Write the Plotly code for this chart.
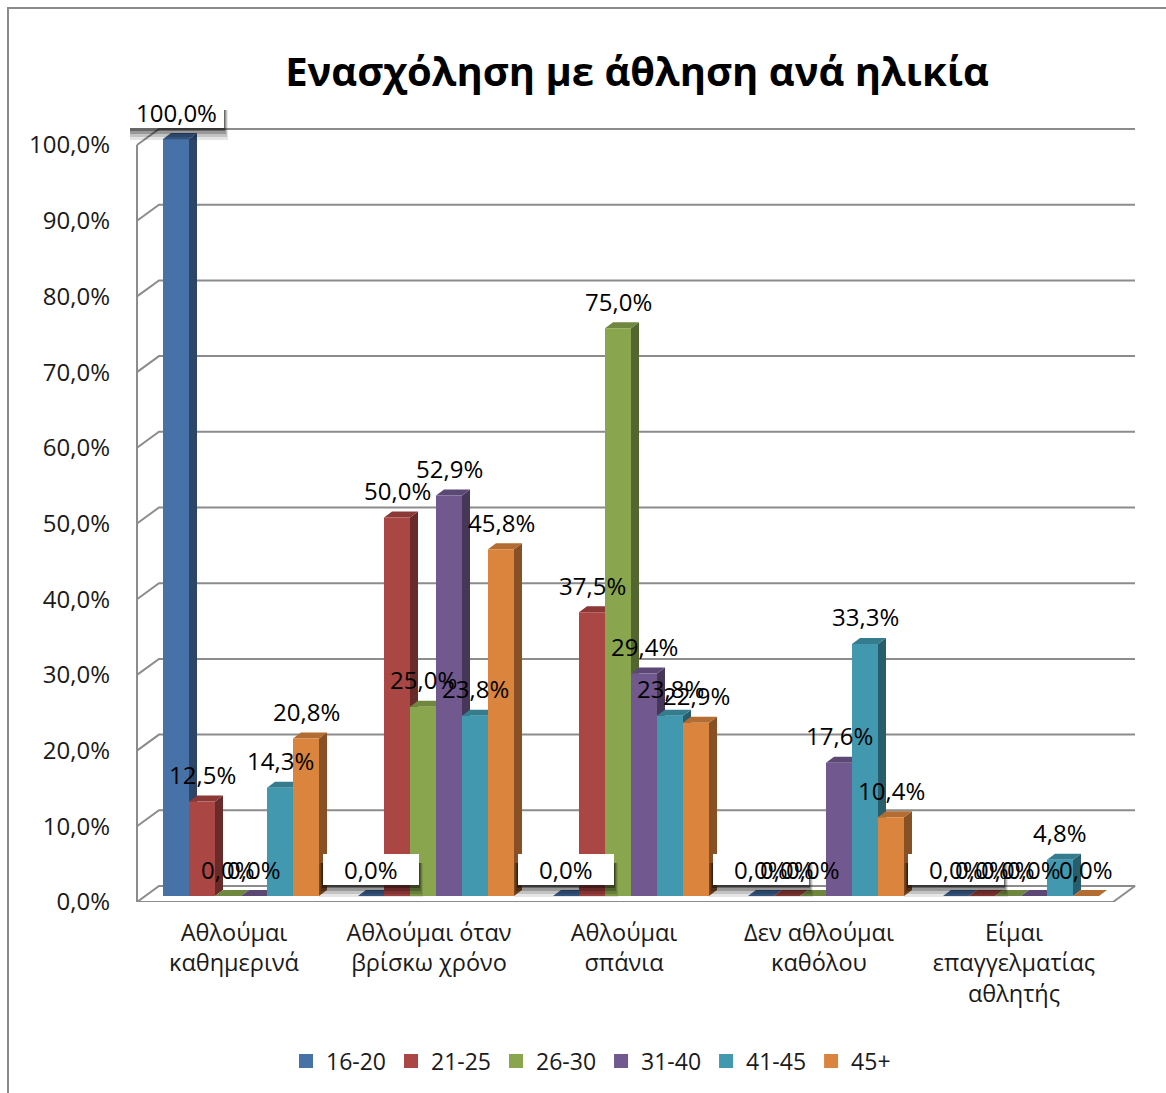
import plotly.graph_objects as go

# ---- data -------------------------------------------------------------
categories = [
    "Αθλούμαι<br>καθημερινά",
    "Αθλούμαι όταν<br>βρίσκω χρόνο",
    "Αθλούμαι<br>σπάνια",
    "Δεν αθλούμαι<br>καθόλου",
    "Είμαι<br>επαγγελματίας<br>αθλητής",
]
age_groups = ["16-20", "21-25", "26-30", "31-40", "41-45", "45+"]

s_16_20 = [100.0, 0.0, 0.0, 0.0, 0.0]
s_21_25 = [12.5, 50.0, 37.5, 0.0, 0.0]
s_26_30 = [0.0, 25.0, 75.0, 0.0, 0.0]
s_31_40 = [0.0, 52.9, 29.4, 17.6, 0.0]
s_41_45 = [14.3, 23.8, 23.8, 33.3, 4.8]
s_45p = [20.8, 45.8, 22.9, 10.4, 0.0]
series = [s_16_20, s_21_25, s_26_30, s_31_40, s_41_45, s_45p]

y_ticks = [0, 10, 20, 30, 40, 50, 60, 70, 80, 90, 100]
y_ticktext = [f"{t:.1f}".replace(".", ",") + "%" for t in y_ticks]

title_text = "Ενασχόληση με άθληση ανά ηλικία"

# ---- styling ----------------------------------------------------------
front_cols = ["#4672A8", "#AA4643", "#89A54E", "#71588F", "#4198AF", "#DB843D"]


def shade(hex_col, f):
    h = hex_col.lstrip("#")
    r, g, b = (int(h[i:i + 2], 16) for i in (0, 2, 4))
    return "rgb({},{},{})".format(int(r * f), int(g * f), int(b * f))


FONT = "Open Sans"
FS = 24
W, H = 1166, 1093
ML, MR, MT, MB = 130, 20, 110, 191
PX_X = 195.0          # pixels per category step
PX_Y = 7.57           # pixels per percentage point
X0 = -111 / PX_X      # left edge of the plotting area in category units
X1 = (W - MR - 241) / PX_X
Y1 = (H - MT - MB) / PX_Y

bar_w = 26 / PX_X
base = 6 / PX_Y       # bars stand slightly behind the front floor edge
bdx, bdy = 8 / PX_X, 6 / PX_Y      # bar depth
wdx, wdy = 22 / PX_X, 16 / PX_Y    # wall / floor depth
wall_x = -104 / PX_X
right_back = (1135 - 241) / PX_X
grid_col = "#8c8c8c"
LABEL_LIFT = 27       # label centre above the column top, px

fig = go.Figure()

# floor
fx = [wall_x, right_back - wdx, right_back, wall_x + wdx, wall_x]
fy = [0, 0, wdy, wdy, 0]
fig.add_trace(go.Scatter(x=fx, y=fy, mode="lines", fill="toself",
                         fillcolor="white", line=dict(color=grid_col, width=2),
                         hoverinfo="skip", showlegend=False))

# back-wall gridlines, side-wall diagonals and front wall edge
gx, gy = [], []
for t in y_ticks[1:]:
    gx += [wall_x, wall_x + wdx, right_back, None]
    gy += [t, t + wdy, t + wdy, None]
gx += [wall_x, wall_x, None]
gy += [0, 100, None]
fig.add_trace(go.Scatter(x=gx, y=gy, mode="lines",
                         line=dict(color=grid_col, width=2),
                         hoverinfo="skip", showlegend=False))

# 3D columns: side, top and front faces per series, left to right
for k, vals in enumerate(series):
    sx, sy, tx, ty, qx, qy = [], [], [], [], [], []
    for i, v in enumerate(vals):
        L = i - 3 * bar_w + k * bar_w
        R = L + bar_w
        top = base + v
        sx += [R, R + bdx, R + bdx, R, R, None]
        sy += [base, base + bdy, top + bdy, top, base, None]
        tx += [L, R, R + bdx, L + bdx, L, None]
        ty += [top, top, top + bdy, top + bdy, top, None]
        qx += [L, R, R, L, L, None]
        qy += [base, base, top, top, base, None]
    for xs, ys, col in ((sx, sy, shade(front_cols[k], 0.62)),
                        (tx, ty, shade(front_cols[k], 0.82)),
                        (qx, qy, front_cols[k])):
        fig.add_trace(go.Scatter(x=xs, y=ys, mode="lines", fill="toself",
                                 fillcolor=col, line=dict(width=0, color=col),
                                 hoverinfo="skip", showlegend=False))

# legend entries
for k, name in enumerate(age_groups):
    fig.add_trace(go.Scatter(x=[None], y=[None], mode="markers", name=name,
                             marker=dict(symbol="square", size=14,
                                         color=front_cols[k])))

# value labels (the first series carries boxed labels with a soft shadow)
annotations = []
shapes = []
for k, vals in enumerate(series):
    for i, v in enumerate(vals):
        cx = i - 3 * bar_w + (k + 0.5) * bar_w
        cy = base + v
        txt = f"{v:.1f}".replace(".", ",") + "%"
        if k == 0:
            for ext, a in ((12, 0.10), (9, 0.15), (6, 0.22), (3, 0.32)):
                shapes.append(dict(
                    type="rect", xref="x", yref="y", layer="above",
                    xsizemode="pixel", ysizemode="pixel", xanchor=cx, yanchor=cy,
                    x0=-48 - ext / 3, x1=48 + ext / 3,
                    y0=LABEL_LIFT - 16 - ext, y1=LABEL_LIFT + 6,
                    fillcolor=f"rgba(0,0,0,{a})", line=dict(width=0)))
            shapes.append(dict(
                type="rect", xref="x", yref="y", layer="above",
                xsizemode="pixel", ysizemode="pixel", xanchor=cx, yanchor=cy,
                x0=-48, x1=48, y0=LABEL_LIFT - 16, y1=LABEL_LIFT + 15,
                fillcolor="white", line=dict(width=0)))
        annotations.append(dict(
            x=cx, y=cy, yshift=LABEL_LIFT, text=txt, showarrow=False,
            font=dict(family=FONT, size=FS, color="black")))


# chart border
def px2paper_x(px):
    return (px - ML) / (W - ML - MR)


def px2paper_y(py):
    return (H - MB - py) / (H - MT - MB)


shapes.append(dict(type="path", xref="paper", yref="paper",
                   path="M {} {} L {} {} L {} {}".format(
                       px2paper_x(8), px2paper_y(1095), px2paper_x(8), px2paper_y(8),
                       px2paper_x(1168), px2paper_y(8)),
                   line=dict(color="#8a8a8a", width=2)))

fig.update_layout(
    width=W, height=H,
    margin=dict(l=ML, r=MR, t=MT, b=MB),
    paper_bgcolor="white", plot_bgcolor="rgba(0,0,0,0)",
    title=dict(text="<b>" + title_text + "</b>", x=637 / W, xref="container",
               xanchor="center", y=1 - 72 / H, yref="container", yanchor="middle",
               font=dict(family=FONT, size=40, color="black")),
    xaxis=dict(range=[X0, X1], showgrid=False, zeroline=False, showline=False,
               tickmode="array", tickvals=[i - 7 / PX_X for i in range(len(categories))],
               ticktext=categories, ticks="", ticklabelstandoff=14,
               tickfont=dict(family=FONT, size=23.5, color="#1a1a1a")),
    yaxis=dict(range=[0, Y1], showgrid=False, zeroline=False, showline=False,
               tickmode="array", tickvals=y_ticks, ticktext=y_ticktext, ticks="",
               ticklabelstandoff=19,
               tickfont=dict(family=FONT, size=FS, color="#1a1a1a")),
    legend=dict(orientation="h", xref="container", yref="container",
                x=591 / W, xanchor="center", y=1 - 1061 / H, yanchor="middle",
                font=dict(family=FONT, size=23, color="#1a1a1a"),
                itemsizing="trace"),
    annotations=annotations,
    shapes=shapes,
    showlegend=True,
)

fig.write_html("out.html")
